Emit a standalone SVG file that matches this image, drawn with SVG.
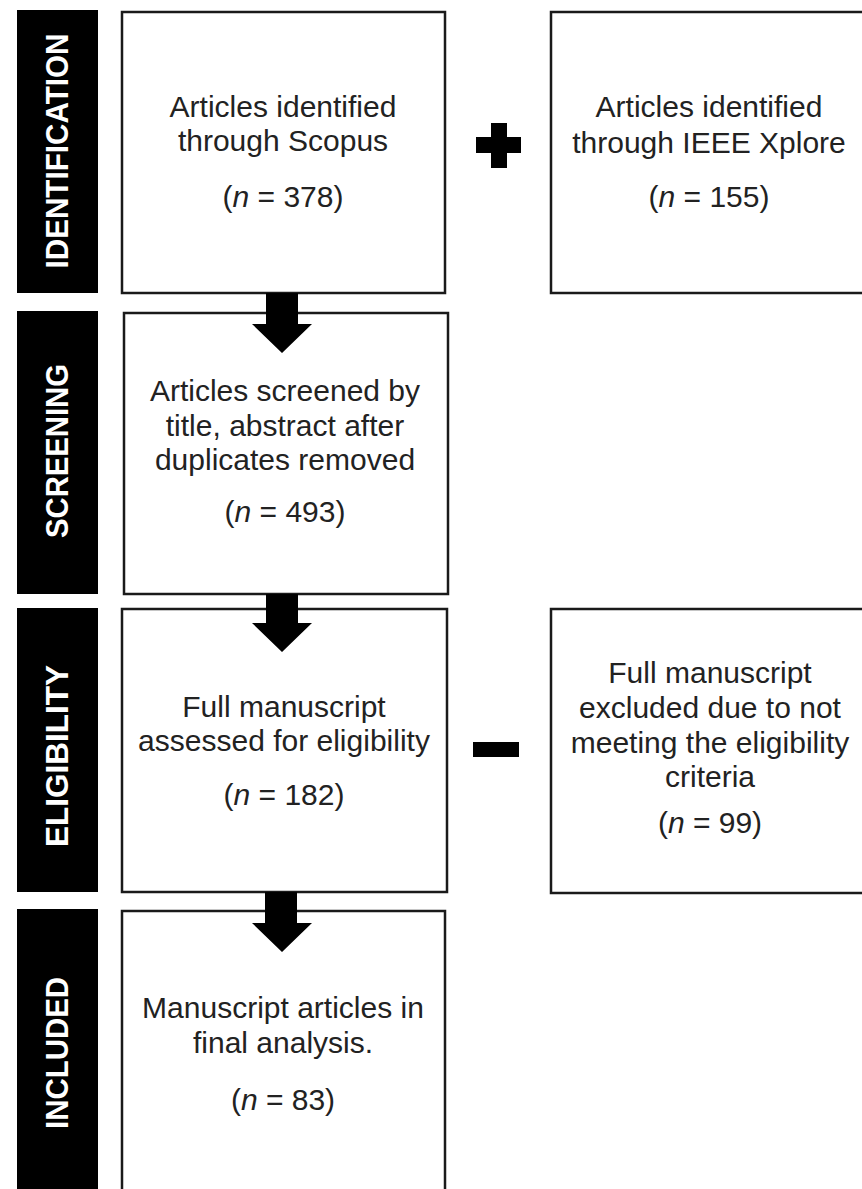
<svg xmlns="http://www.w3.org/2000/svg" width="862" height="1189" viewBox="0 0 862 1189">
<style>
.bar{fill:#000;}
.lab{font-family:"Liberation Sans",Arial,sans-serif;font-weight:bold;font-size:32px;fill:#fff;text-anchor:middle;}
.box{fill:#fff;stroke:#1a1a1a;stroke-width:2.5;}
.t{font-family:"Liberation Sans",Arial,sans-serif;font-size:30px;fill:#222;text-anchor:middle;}
.i{font-style:italic;}
.arr{fill:#000;}
</style>
<rect width="862" height="1189" fill="#fff"/>
<g id="stage-identification">
<rect class="bar" x="17" y="10" width="81" height="283"/>
<text class="lab" transform="translate(68,151) rotate(-90)" textLength="235" lengthAdjust="spacingAndGlyphs">IDENTIFICATION</text>
</g>
<g id="stage-screening">
<rect class="bar" x="17" y="311" width="81" height="283"/>
<text class="lab" transform="translate(68,451) rotate(-90)" textLength="174" lengthAdjust="spacingAndGlyphs">SCREENING</text>
</g>
<g id="stage-eligibility">
<rect class="bar" x="17" y="608" width="81" height="284"/>
<text class="lab" transform="translate(68,756) rotate(-90)" textLength="182" lengthAdjust="spacingAndGlyphs">ELIGIBILITY</text>
</g>
<g id="stage-included">
<rect class="bar" x="17" y="909" width="81" height="290"/>
<text class="lab" transform="translate(68,1053) rotate(-90)" textLength="152" lengthAdjust="spacingAndGlyphs">INCLUDED</text>
</g>
<g id="scopus">
<rect class="box" x="122" y="12" width="323" height="281"/>
<text class="t" x="283" y="117">Articles identified</text>
<text class="t" x="283" y="151">through Scopus</text>
<text class="t" x="283" y="207">(<tspan class="i">n</tspan> = 378)</text>
</g>
<g id="ieee">
<rect class="box" x="551" y="12" width="320" height="281"/>
<text class="t" x="709" y="117">Articles identified</text>
<text class="t" x="709" y="153">through IEEE Xplore</text>
<text class="t" x="709" y="207">(<tspan class="i">n</tspan> = 155)</text>
</g>
<g id="screened">
<rect class="box" x="124" y="313" width="324" height="281"/>
<text class="t" x="285" y="401">Articles screened by</text>
<text class="t" x="285" y="436">title, abstract after</text>
<text class="t" x="285" y="470">duplicates removed</text>
<text class="t" x="285" y="522">(<tspan class="i">n</tspan> = 493)</text>
</g>
<g id="assessed">
<rect class="box" x="122" y="609" width="325" height="283"/>
<text class="t" x="284" y="717">Full manuscript</text>
<text class="t" x="284" y="751">assessed for eligibility</text>
<text class="t" x="284" y="805">(<tspan class="i">n</tspan> = 182)</text>
</g>
<g id="excluded">
<rect class="box" x="551" y="609" width="320" height="284"/>
<text class="t" x="710" y="683">Full manuscript</text>
<text class="t" x="710" y="718">excluded due to not</text>
<text class="t" x="710" y="753">meeting the eligibility</text>
<text class="t" x="710" y="787">criteria</text>
<text class="t" x="710" y="833">(<tspan class="i">n</tspan> = 99)</text>
</g>
<g id="included">
<rect class="box" x="122" y="911" width="323" height="290"/>
<text class="t" x="283" y="1018">Manuscript articles in</text>
<text class="t" x="283" y="1053">final analysis.</text>
<text class="t" x="283" y="1110">(<tspan class="i">n</tspan> = 83)</text>
</g>
<g id="connectors">
<polygon class="arr" points="266,293 298,293 298,324 312,324 282,353 252,324 266,324"/>
<polygon class="arr" points="266,594 298,594 298,623 312,623 282,652 252,623 266,623"/>
<polygon class="arr" points="265,892 297,892 297,923 312,923 282,952 252,923 265,923"/>
<path class="arr" d="M491,123 H507 V137 H521 V153 H507 V168 H491 V153 H476 V137 H491 Z"/>
<rect class="arr" x="473" y="742" width="46" height="15"/>
</g>
</svg>
